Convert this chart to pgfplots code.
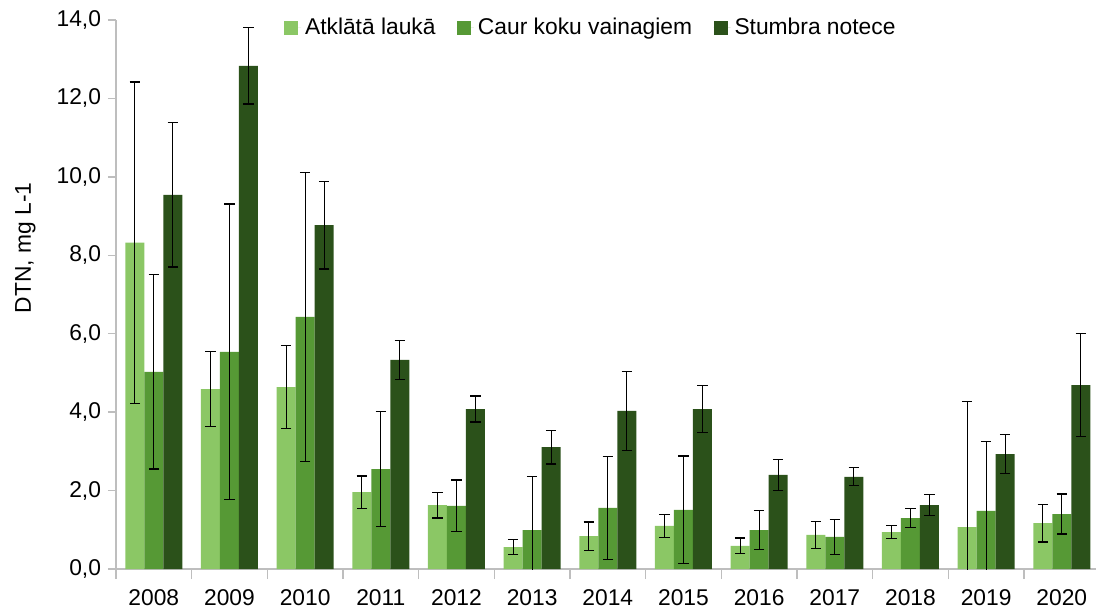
\documentclass[border=0pt]{standalone}
\usepackage{fontspec}
\setmainfont{Liberation Sans}
\usepackage{pgfplots}
\pgfplotsset{compat=1.18}
\usepackage{pgfplotstable}
\definecolor{cL}{RGB}{139,199,101}
\definecolor{cM}{RGB}{86,153,53}
\definecolor{cD}{RGB}{43,81,26}
\definecolor{axgray}{RGB}{190,190,190}
\pgfplotstableread{
x L eL M eM D eD
0 8.32 4.10 5.03 2.48 9.54 1.84
1 4.59 0.95 5.54 3.77 12.83 0.97
2 4.64 1.06 6.43 3.68 8.77 1.12
3 1.96 0.41 2.55 1.47 5.33 0.50
4 1.63 0.33 1.61 0.66 4.08 0.33
5 0.56 0.20 0.99 1.36 3.11 0.43
6 0.84 0.36 1.56 1.31 4.03 1.00
7 1.10 0.29 1.51 1.37 4.08 0.59
8 0.59 0.20 0.99 0.50 2.40 0.40
9 0.87 0.34 0.82 0.45 2.35 0.23
10 0.94 0.16 1.30 0.24 1.63 0.27
11 1.07 3.20 1.48 1.77 2.93 0.50
12 1.17 0.48 1.40 0.51 4.69 1.32
}\data
\newcommand{\myfont}{\fontsize{11.4bp}{13bp}\selectfont}
\pgfplotsset{
  sq/.style={legend image code/.code={\fill[##1,draw=none] (0bp,-3.5bp) rectangle (7bp,3.5bp); \path (0bp,0bp) -- (8.5bp,0bp);}},
  eb/.style={error bars/.cd, y dir=both, y explicit,
    error bar style={black, line width=0.6bp},
    error mark options={black, rotate=90, mark size=2.6bp, line width=0.6bp}},
}
\begin{document}
\begin{tikzpicture}
\begin{axis}[
  scale only axis, width=491.8bp, height=274.5bp,
  at={(0,0)}, anchor=south west,
  xmin=-0.5, xmax=12.5, ymin=0, ymax=14,
  ybar=0pt, bar width=9.5bp,
  axis x line*=bottom, axis y line*=left,
  axis line style={-, draw=axgray, line width=0.7bp},
  xtick={0,...,12},
  xticklabels={2008,2009,2010,2011,2012,2013,2014,2015,2016,2017,2018,2019,2020},
  minor xtick={-0.5,0.5,...,12.5},
  ytick={0,2,...,14},
  tick align=outside, major tick length=4bp, minor tick length=5bp,
  tick style={axgray, line width=0.7bp},
  major x tick style={draw=none},
  yticklabel style={/pgf/number format/.cd, fixed, fixed zerofill, precision=1, use comma, assume math mode=true},
  every tick label/.append style={font=\myfont, text=black},
  xticklabel style={yshift=-3bp},
  ylabel={DTN, mg L-1},
  ylabel style={at={(axis description cs:-0.092,0.585)}, anchor=center, font=\myfont},
  legend columns=3,
  legend cell align=left,
  legend style={draw=none, fill=none, at={(0.4837,0.986)}, anchor=center, font=\myfont,
    /tikz/every even column/.append style={column sep=8.7bp}},
  clip=true,
]
\addplot[fill=cL, draw=none, sq, eb] table[x=x, y=L, y error=eL] {\data};
\addplot[fill=cM, draw=none, sq, eb] table[x=x, y=M, y error=eM] {\data};
\addplot[fill=cD, draw=none, sq, eb] table[x=x, y=D, y error=eD] {\data};
\legend{Atklātā laukā, Caur koku vainagiem, Stumbra notece}
\end{axis}
\pgfresetboundingbox
\path[use as bounding box] (-58bp,-21bp) rectangle (490bp,284.5bp);
\end{tikzpicture}
\end{document}
